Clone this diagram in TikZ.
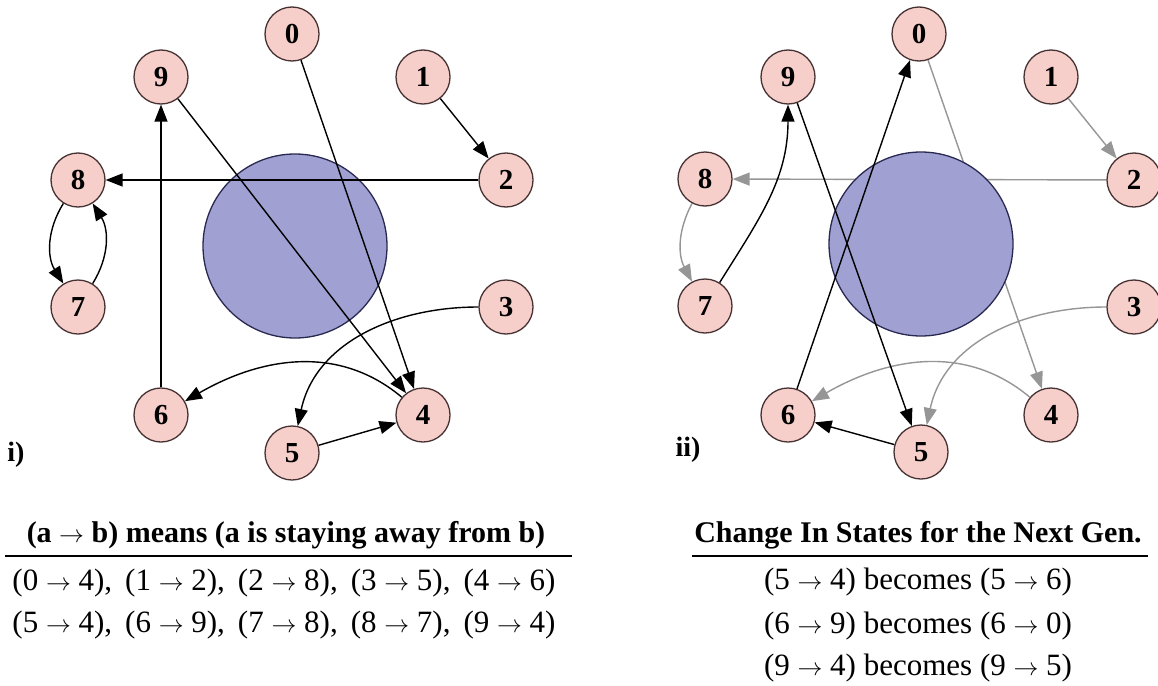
\documentclass[tikz,border=0pt]{standalone}
\usepackage{fontspec}
\setmainfont{Liberation Serif}
\usetikzlibrary{arrows.meta}
\pgfdeclarelayer{back}
\pgfdeclarelayer{bg}
\pgfsetlayers{back,bg,main}
\definecolor{nodefill}{RGB}{246,206,202}
\definecolor{nodeline}{RGB}{70,50,50}
\definecolor{bigfill}{RGB}{160,160,210}
\definecolor{bigline}{RGB}{40,40,80}
\definecolor{grayedge}{RGB}{150,150,150}
\newcommand{\sep}{,\hspace{13pt}}
\begin{document}
\begin{tikzpicture}[x=1pt,y=1pt,
  state/.style={circle,draw=nodeline,fill=nodefill,line width=1.3pt,minimum size=54pt,inner sep=0pt,font=\fontsize{29}{29}\selectfont\bfseries},
  big/.style={circle,draw=bigline,fill=bigfill,line width=1.3pt,minimum size=184pt,inner sep=0pt},
  edge/.style={line width=1.4pt,black,-{Triangle[length=17pt,width=13pt]}},
  gedge/.style={line width=1.4pt,grayedge,-{Triangle[length=17pt,width=13pt]}},
  lbl/.style={font=\fontsize{28}{28}\selectfont\bfseries,inner sep=0pt},
  txt/.style={font=\fontsize{31}{34}\selectfont,inner sep=0pt},
  head/.style={font=\fontsize{30}{34}\selectfont\bfseries,inner sep=0pt},
  rule/.style={line width=2pt,black}]
\useasboundingbox (0,0) rectangle (1158,-685);
\begin{pgfonlayer}{back}
\fill[white] (0,0) rectangle (1158,-685);
\end{pgfonlayer}
% ---------- left diagram ----------
\node[big] (ca) at (295,-246) {};
\node[state] (a0) at (292,-34) {0};
\node[state] (a9) at (161,-77) {9};
\node[state] (a1) at (423,-77) {1};
\node[state] (a8) at (78,-180) {8};
\node[state] (a2) at (506,-180) {2};
\node[state] (a7) at (78,-307) {7};
\node[state] (a3) at (506,-307) {3};
\node[state] (a6) at (161,-415) {6};
\node[state] (a4) at (423,-415) {4};
\node[state] (a5) at (292,-453) {5};
\draw[edge] (a0) -- (a4);
\draw[edge] (a1) -- (a2);
\draw[edge] (a2) -- (a8);
\draw[edge] (a3) to[out=180,in=78] (a5);
\draw[edge] (a4) to[out=140,in=30] (a6);
\draw[edge] (a5) -- (a4);
\draw[edge] (a6) -- (a9);
\draw[edge] (a7) to[bend right=32] (a8);
\draw[edge] (a8) to[bend right=32] (a7);
\draw[edge] (a9) -- (a4);
\node[lbl] (li) at (16,-455) {i)};
% ---------- right diagram ----------
\node[big] (cb) at (921,-244) {};
\node[state] (b0) at (919,-34) {0};
\node[state] (b9) at (788,-77) {9};
\node[state] (b1) at (1051,-77) {1};
\node[state] (b8) at (705,-179) {8};
\node[state] (b2) at (1134,-180) {2};
\node[state] (b7) at (705,-306) {7};
\node[state] (b3) at (1134,-307) {3};
\node[state] (b6) at (788,-415) {6};
\node[state] (b4) at (1051,-415) {4};
\node[state] (b5) at (921,-452) {5};
\begin{pgfonlayer}{bg}
\draw[gedge] (b0) -- (b4);
\draw[gedge] (b1) -- (b2);
\draw[gedge] (b2) -- (b8);
\draw[gedge] (b3) to[out=180,in=78] (b5);
\draw[gedge] (b4) to[out=140,in=30] (b6);
\draw[gedge] (b8) to[bend right=28] (b7);
\end{pgfonlayer}
\draw[edge] (b7) to[out=58,in=-90] (b9);
\draw[edge] (b6) -- (b0);
\draw[edge] (b9) -- (b5);
\draw[edge] (b5) -- (b6);
\node[lbl] (lii) at (688,-450) {ii)};
% ---------- tables ----------
\node[head] (h1) at (286,-535) {(a $\rightarrow$ b) means (a is staying away from b)};
\draw[rule] (5,-556) -- (572,-556);
\node[txt] (r1) at (284,-583) {(0 $\rightarrow$ 4)\sep(1 $\rightarrow$ 2)\sep(2 $\rightarrow$ 8)\sep(3 $\rightarrow$ 5)\sep(4 $\rightarrow$ 6)};
\node[txt] (r2) at (284,-625) {(5 $\rightarrow$ 4)\sep(6 $\rightarrow$ 9)\sep(7 $\rightarrow$ 8)\sep(8 $\rightarrow$ 7)\sep(9 $\rightarrow$ 4)};
\node[head] (h2) at (918,-535) {Change In States for the Next Gen.};
\draw[rule] (692,-556) -- (1148,-556);
\node[txt] (s1) at (918,-582) {(5 $\rightarrow$ 4) becomes (5 $\rightarrow$ 6)};
\node[txt] (s2) at (918,-626) {(6 $\rightarrow$ 9) becomes (6 $\rightarrow$ 0)};
\node[txt] (s3) at (918,-668) {(9 $\rightarrow$ 4) becomes (9 $\rightarrow$ 5)};
\end{tikzpicture}
\end{document}
